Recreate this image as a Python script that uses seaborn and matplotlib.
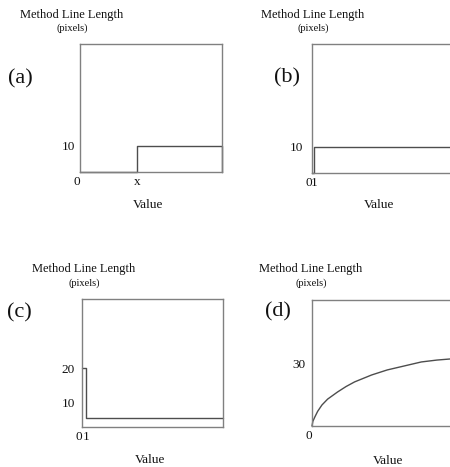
import matplotlib
matplotlib.use("Agg")
import matplotlib.pyplot as plt
import seaborn as sns

# ---------------- data ----------------
a_x = [0, 40, 100, 100]
a_y = [0, 10, 10, 0]
a_xticks = [0, 40]
a_xticklabels = ["0", "x"]
a_yticks = [10]
a_yticklabels = ["10"]

b_x = [0, 1, 60]
b_y = [0, 10, 10]
b_xticks = [0, 1]
b_xticklabels = ["0", "1"]
b_yticks = [10]
b_yticklabels = ["10"]

c_x = [0, 1, 35]
c_y = [20, 5.6, 5.6]
c_xticks = [0, 1]
c_xticklabels = ["0", "1"]
c_yticks = [10, 20]
c_yticklabels = ["10", "20"]

d_x = [0, 0.6, 2, 4, 7, 11, 18, 24, 30, 42, 53, 65, 77, 88, 97, 100]
d_y = [0, 2.2, 4.3, 7.0, 10, 12.8, 16.2, 18.8, 21, 24.3, 26.7, 28.6, 30.5, 31.4, 31.9, 32]
d_xticks = [0]
d_xticklabels = ["0"]
d_yticks = [30]
d_yticklabels = ["30"]

panel_labels = ["(a)", "(b)", "(c)", "(d)"]
ylabel_main = "Method Line Length"
ylabel_sub = "(pixels)"
xlabel = "Value"

# ---------------- style ----------------
sns.set_theme(style="white")
plt.rcParams["font.family"] = ["Liberation Serif", "DejaVu Serif"]

W, H = 450, 467
fig = plt.figure(figsize=(W / 100, H / 100), dpi=100)
fig.patch.set_facecolor("white")

TXT = "#111111"
SPINE = "#808080"
LINE = "#4d4d4d"


def fx(x):
    return x / W


def fy(y):
    return 1 - y / H


def make_axes(left, top, right, bottom):
    return fig.add_axes([fx(left), fy(bottom), (right - left) / W, (bottom - top) / H])


panels = [
    dict(box=(80, 44, 222, 172), x=a_x, y=a_y, xlim=(0, 100), ylim=(0, 49.2), step=True,
         xt=a_xticks, xtl=a_xticklabels, yt=a_yticks, ytl=a_yticklabels, ypad=3.6,
         title=(72, 15), sub=(72, 28), lab=(20, 79), val=(148, 205)),
    dict(box=(312, 44, 454, 173), x=b_x, y=b_y, xlim=(0, 60), ylim=(0, 49.6), step=True,
         xt=b_xticks, xtl=b_xticklabels, yt=b_yticks, ytl=b_yticklabels, ypad=6.5,
         title=(313, 15), sub=(313, 28), lab=(287, 78), val=(379, 205)),
    dict(box=(82, 299, 223, 427), x=c_x, y=c_y, xlim=(0, 35), ylim=(2.9, 40.3), step=True,
         xt=c_xticks, xtl=c_xticklabels, yt=c_yticks, ytl=c_yticklabels, ypad=5,
         title=(84, 269), sub=(84, 283), lab=(19, 313), val=(150, 460)),
    dict(box=(312, 300, 454, 426), x=d_x, y=d_y, xlim=(0, 100), ylim=(0, 60), step=False,
         xt=d_xticks, xtl=d_xticklabels, yt=d_yticks, ytl=d_yticklabels, ypad=5,
         title=(311, 269), sub=(311, 283), lab=(278, 312), val=(388, 461)),
]

for p, plab in zip(panels, panel_labels):
    ax = make_axes(*p["box"])
    kw = dict(drawstyle="steps-post") if p["step"] else {}
    sns.lineplot(x=p["x"], y=p["y"], ax=ax, estimator=None, sort=False,
                 color=LINE, linewidth=1.0, clip_on=False, **kw)
    ax.set_xlim(*p["xlim"])
    ax.set_ylim(*p["ylim"])
    ax.set_facecolor("white")
    for s in ax.spines.values():
        s.set_visible(True)
        s.set_color(SPINE)
        s.set_linewidth(1.0)
    ax.set_xticks(p["xt"])
    ax.set_xticklabels(p["xtl"])
    ax.set_yticks(p["yt"])
    ax.set_yticklabels(p["ytl"])
    ax.tick_params(axis="both", length=0, labelsize=9.5, colors=TXT)
    ax.tick_params(axis="x", pad=3)
    ax.tick_params(axis="y", pad=p["ypad"])
    ax.get_xticklabels()[0].set_horizontalalignment("right")
    ax.grid(False)

    # axis labels
    ax.set_xlabel(xlabel, fontsize=9.5, color=TXT)
    ax.xaxis.label.set_va("center")
    ax.xaxis.set_label_coords(fx(p["val"][0]), fy(p["val"][1]), transform=fig.transFigure)

    ax.set_ylabel(ylabel_main, fontsize=9, color=TXT, rotation=0)
    ax.yaxis.label.set_va("center")
    ax.yaxis.label.set_ha("center")
    ax.yaxis.set_label_coords(fx(p["title"][0]), fy(p["title"][1]), transform=fig.transFigure)

    fig.text(fx(p["sub"][0]), fy(p["sub"][1]), ylabel_sub, fontsize=7.5, color=TXT,
             ha="center", va="center")
    fig.text(fx(p["lab"][0]), fy(p["lab"][1]), plab, fontsize=16, color=TXT,
             ha="center", va="center")

fig.savefig("out.png", dpi=100, facecolor="white")
